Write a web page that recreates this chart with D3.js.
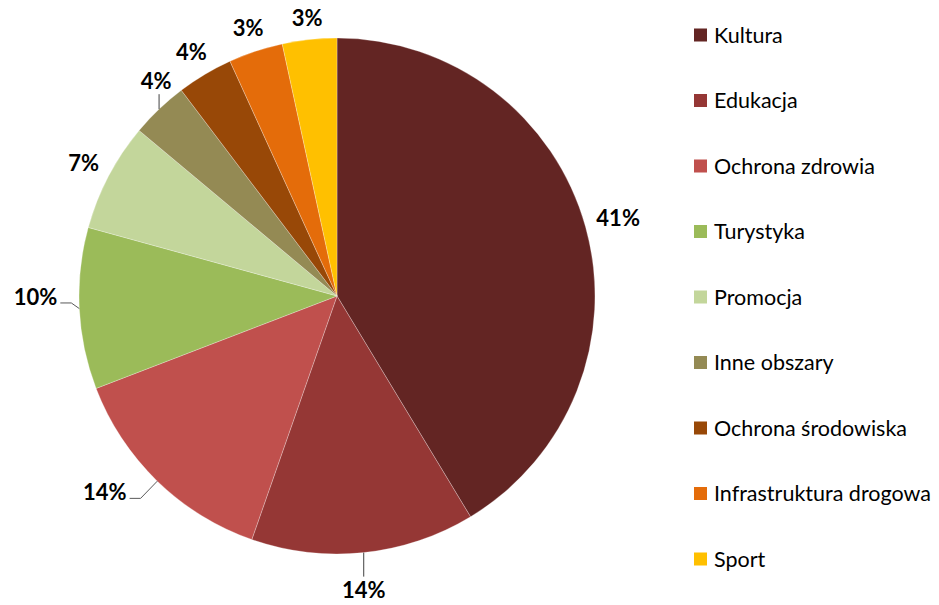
<!DOCTYPE html>
<html>
<head>
<meta charset="utf-8">
<script src="https://cdn.jsdelivr.net/npm/d3@7"></script>
<style>
  body { margin: 0; background: #fff; }
  svg { display: block; }
</style>
</head>
<body>
<div id="chart"></div>
<script>
// data (shares in %)
var categories = ["Kultura", "Edukacja", "Ochrona zdrowia", "Turystyka", "Promocja",
  "Inne obszary", "Ochrona środowiska", "Infrastruktura drogowa", "Sport"]
var shares = [41.3, 14.0, 13.8, 10.1, 6.8, 3.6, 3.5, 3.4, 3.4]
var colors = ["#632523", "#953735", "#C0504D", "#9BBB59", "#C3D69B",
  "#948A54", "#984807", "#E46C0A", "#FFC000"]

const width = 939, height = 605
const cx = 337, cy = 296, r = 258

const svg = d3.select("#chart")
    .append("svg")
    .attr("width", width)
    .attr("height", height)

const total = d3.sum(shares)
const pie = d3.pie().sort(null).value(function (d) { return d })
const arcs = pie(shares)
const arc = d3.arc().innerRadius(0).outerRadius(r)

const g = svg.append("g").attr("transform", `translate(${cx},${cy})`)

g.selectAll("path")
    .data(arcs)
    .enter()
    .append("path")
    .attr("d", arc)
    .attr("fill", function (d, i) { return colors[i] })
    .attr("stroke", "rgba(255,255,255,0.45)")
    .attr("stroke-width", 0.6)

// point on a circle of radius rr at angle a (0 = top, clockwise)
function pt(a, rr) { return [rr * Math.sin(a), -rr * Math.cos(a)] }

// leader lines for some labels (how Excel placed them)
const leaders = {
  "Edukacja": { type: "v", len: 24 },
  "Ochrona zdrowia": { type: "h", elbow: 24, dy: 0 },
  "Turystyka": { type: "h", elbow: 8, dy: -6 },
  "Inne obszary": { type: "v", len: -15 }
}

const labelFont = "Lato, 'Open Sans', sans-serif"
const lab = g.append("g")
    .style("font-family", labelFont)
    .style("font-weight", "bold")
    .style("font-size", "22px")
    .attr("fill", "#000")

arcs.forEach(function (d, i) {
  const mid = (d.startAngle + d.endAngle) / 2
  const txt = Math.round(d.value / total * 100) + "%"
  const ld = leaders[categories[i]]
  if (!ld) {
    const hw = txt.length > 2 ? 22 : 15, hh = 10
    const ext = Math.abs(hw * Math.sin(mid)) + Math.abs(hh * Math.cos(mid))
    const p = pt(mid, r + 10 + ext)
    lab.append("text")
        .attr("x", p[0]).attr("y", p[1] + 8)
        .attr("text-anchor", "middle")
        .text(txt)
    return
  }
  const s = pt(mid, r)
  if (ld.type == "v") {
    const e = [s[0], s[1] + ld.len]
    lab.append("path")
        .attr("d", d3.line()([s, e]))
        .attr("stroke", "#404040").attr("stroke-width", 1).attr("fill", "none")
    lab.append("text")
        .attr("x", e[0] + (ld.len > 0 ? 0 : -3))
        .attr("y", ld.len > 0 ? e[1] + 21 : e[1] - 5)
        .attr("text-anchor", "middle")
        .text(txt)
  } else {
    const el = pt(mid, r + ld.elbow)
    el[1] += ld.dy
    const e = [el[0] - 11, el[1]]
    lab.append("path")
        .attr("d", d3.line()([s, el, e]))
        .attr("stroke", "#595959").attr("stroke-width", 1).attr("fill", "none")
    lab.append("text")
        .attr("x", e[0] - 3).attr("y", e[1] + 2)
        .attr("text-anchor", "end")
        .text(txt)
  }
})

// legend
const ly = d3.scalePoint().domain(categories).range([35, 559])
const legend = svg.append("g")
    .style("font-family", labelFont)
    .style("font-size", "21.5px")

const item = legend.selectAll("g")
    .data(categories)
    .enter()
    .append("g")
    .attr("transform", function (d) { return `translate(694,${ly(d)})` })

item.append("rect")
    .attr("x", 0).attr("y", -6.5)
    .attr("width", 13).attr("height", 13)
    .attr("fill", function (d, i) { return colors[i] })

item.append("text")
    .attr("x", 20).attr("y", 7.5)
    .attr("fill", "#000")
    .text(function (d) { return d })
</script>
</body>
</html>
